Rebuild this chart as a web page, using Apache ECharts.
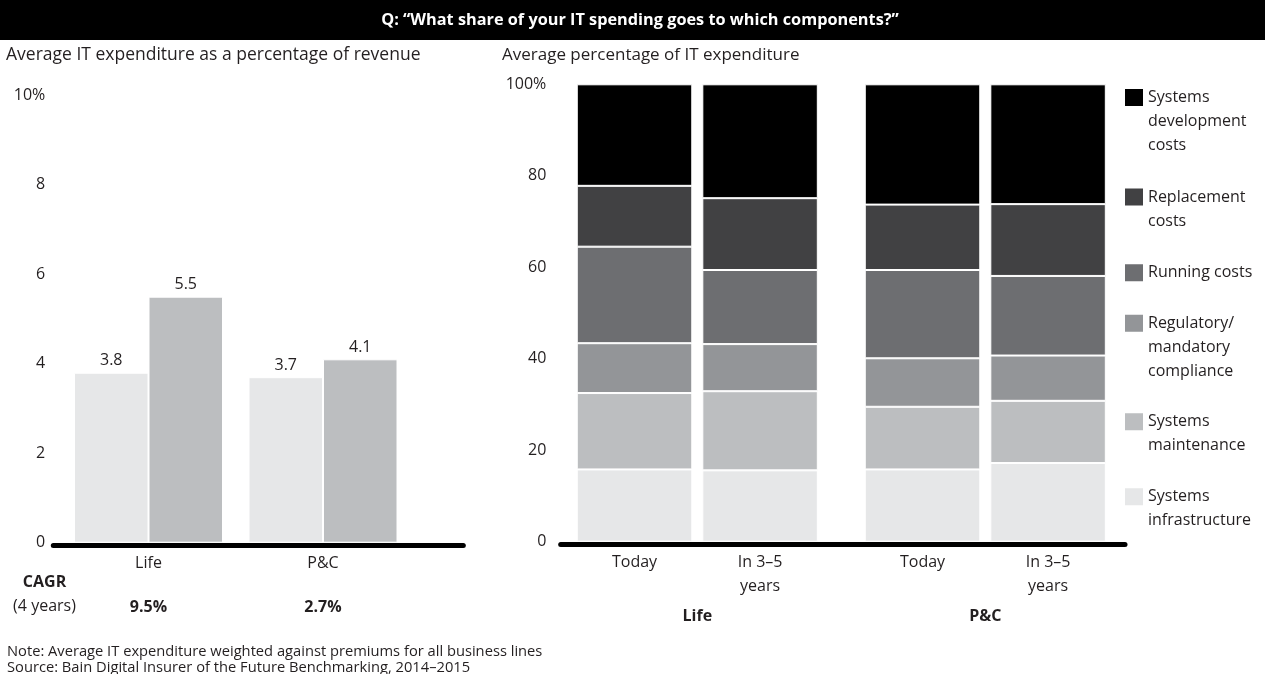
<!DOCTYPE html>
<html>
<head>
<meta charset="utf-8">
<script src="https://cdn.jsdelivr.net/npm/echarts@6/dist/echarts.min.js"></script>
<style>html,body{margin:0;padding:0;background:#fff}#c{width:1265px;height:674px}</style>
</head>
<body>
<div id="c"></div>
<script>
// ---- data ----
const titleText = 'Q: \u201cWhat share of your IT spending goes to which components?\u201d';
const leftSubtitle = 'Average IT expenditure as a percentage of revenue';
const rightSubtitle = 'Average percentage of IT expenditure';
const noteText = 'Note: Average IT expenditure weighted against premiums for all business lines';
const sourceText = 'Source: Bain Digital Insurer of the Future Benchmarking, 2014\u20132015';

const lobCategories = ['Life', 'P&C'];
const spendToday = [3.8, 3.7];
const spendFuture = [5.5, 4.1];
const cagrValues = ['9.5%', '2.7%'];
const leftTicks = [0, 2, 4, 6, 8, 10];
const rightTicks = [0, 20, 40, 60, 80, 100];

// stack order bottom -> top
const components = ['Systems infrastructure', 'Systems maintenance', 'Regulatory/mandatory compliance', 'Running costs', 'Replacement costs', 'Systems development costs'];
const legendLabels = ['Systems\ninfrastructure', 'Systems\nmaintenance', 'Regulatory/\nmandatory\ncompliance', 'Running costs', 'Replacement\ncosts', 'Systems\ndevelopment\ncosts'];
const periodLabels = ['Today', 'In 3\u20135\nyears'];
const lifeToday  = [15.8, 16.7, 10.9, 21.1, 13.3, 22.2];
const pcToday    = [15.8, 13.7, 10.6, 19.3, 14.3, 26.3];
const lifeFuture = [15.6, 17.3, 10.3, 16.2, 15.7, 24.9];
const pcFuture   = [17.2, 13.6,  9.9, 17.4, 15.7, 26.2];

// ---- styles ----
const FONT = 'Open Sans';
const TXT = '#231f20';
const compColors = ['#e6e7e8', '#bcbec0', '#939598', '#6d6e71', '#414143', '#000000'];
const leftColors = ['#e6e7e8', '#bcbec0'];
const LH = 24; // legend line height

const chart = echarts.init(document.getElementById('c'), null, {renderer: 'canvas'});

const series = [];
[spendToday, spendFuture].forEach((vals, i) => {
  series.push({
    name: i === 0 ? 'Today' : 'Future', type: 'bar', xAxisIndex: 0, yAxisIndex: 0,
    data: vals, barWidth: 74.5, barGap: '0%',
    itemStyle: {color: leftColors[i], borderColor: '#fff', borderWidth: 1},
    label: {show: true, position: 'top', distance: 4, fontSize: 16, fontFamily: FONT, color: TXT, formatter: p => p.value.toFixed(1)}
  });
});

const stacks = [
  {id: 'today', life: lifeToday, pc: pcToday},
  {id: 'future', life: lifeFuture, pc: pcFuture}
];
stacks.forEach((st, si) => {
  components.forEach((comp, k) => {
    series.push({
      name: comp, type: 'bar', stack: st.id, xAxisIndex: 3, yAxisIndex: 2,
      data: [st.life[k], st.pc[k]], barWidth: 115.5, barGap: '8.7%',
      itemStyle: {color: compColors[k], borderColor: '#fff', borderWidth: 1},
      label: k === 0 ? {show: true, position: 'bottom', distance: 9, fontSize: 16, lineHeight: 24, fontFamily: FONT, color: TXT, formatter: () => periodLabels[si]} : {show: false}
    });
  });
});

// legend: one component per item; icon box as tall as the text block, square drawn at its top
const legendFirstLine = [496.7, 421.7, 323.3, 272.7, 197, 97.5];
const legends = components.map((comp, k) => {
  const n = legendLabels[k].split('\n').length;
  const H = n * LH;
  return {
    orient: 'vertical', left: 1125, top: legendFirstLine[k] - LH / 2,
    padding: 0, itemWidth: 18, itemHeight: H, itemGap: 0,
    icon: 'path://M0,3.5L18,3.5L18,20.5L0,20.5Z M0,0L18,0L18,0Z M0,' + H + 'L18,' + H + 'L18,' + H + 'Z',
    selectedMode: false, data: [comp],
    formatter: () => legendLabels[k],
    itemStyle: {borderWidth: 0},
    textStyle: {fontSize: 16, lineHeight: LH, fontFamily: FONT, color: TXT}
  };
});

const option = {
  animation: false,
  textStyle: {fontFamily: FONT, color: TXT},
  grid: [
    {left: 61.25, width: 349, top: 95.4, height: 447.3},     // left bars
    {left: 53.3, width: 410, top: 95.4, height: 450.3},      // left axis line
    {left: 553.3, width: 576, top: 84.3, height: 457.4},     // right bars
    {left: 560.7, width: 564.3, top: 84.3, height: 460.4}    // right axis line
  ],
  xAxis: [
    {gridIndex: 0, type: 'category', data: lobCategories,
      axisLine: {show: false}, axisTick: {show: false},
      axisLabel: {margin: 9.5, fontSize: 16, lineHeight: 22, fontFamily: FONT, color: TXT,
        formatter: (v, i) => v + '\n\n{c|' + cagrValues[i] + '}',
        rich: {c: {fontWeight: 'bold', fontSize: 16, lineHeight: 22, fontFamily: FONT, color: TXT}}}},
    {gridIndex: 1, type: 'category', data: [''], axisLine: {show: true, lineStyle: {color: '#000', width: 5}}, axisTick: {show: false}, axisLabel: {show: false}},
    {gridIndex: 3, type: 'category', data: [''], axisLine: {show: true, lineStyle: {color: '#000', width: 5}}, axisTick: {show: false}, axisLabel: {show: false}},
    {gridIndex: 2, type: 'category', data: lobCategories,
      axisLine: {show: false}, axisTick: {show: false},
      axisLabel: {margin: 67, fontSize: 16, fontWeight: 'bold', fontFamily: FONT, color: TXT}}
  ],
  yAxis: [
    {gridIndex: 0, type: 'value', min: leftTicks[0], max: leftTicks[leftTicks.length - 1], interval: 2,
      splitLine: {show: false}, axisLine: {show: false}, axisTick: {show: false},
      axisLabel: {margin: 16, fontSize: 16, fontFamily: FONT, color: TXT, formatter: v => v === 10 ? '10%' : String(v)}},
    {gridIndex: 1, type: 'value', min: 0, max: 10, show: false},
    {gridIndex: 2, type: 'value', min: rightTicks[0], max: rightTicks[rightTicks.length - 1], interval: 20,
      splitLine: {show: false}, axisLine: {show: false}, axisTick: {show: false},
      axisLabel: {margin: 7, fontSize: 16, fontFamily: FONT, color: TXT, formatter: v => v === 100 ? '100%' : String(v)}},
    {gridIndex: 3, type: 'value', min: 0, max: 100, show: false}
  ],
  legend: legends,
  series: series,
  graphic: [
    {type: 'rect', shape: {x: 0, y: 0, width: 1265, height: 40}, style: {fill: '#000'}, z: 0},
    {type: 'text', x: 640, y: 20, style: {text: titleText, fill: '#fff', fontSize: 16.3, fontWeight: 'bold', fontFamily: FONT, align: 'center', verticalAlign: 'middle'}},
    {type: 'text', x: 6, y: 55, style: {text: leftSubtitle, fill: TXT, fontSize: 17.5, fontFamily: FONT, align: 'left', verticalAlign: 'middle'}},
    {type: 'text', x: 502, y: 55, style: {text: rightSubtitle, fill: TXT, fontSize: 17, fontFamily: FONT, align: 'left', verticalAlign: 'middle'}},
    {type: 'text', x: 44.5, y: 582, style: {text: 'CAGR', fill: TXT, fontSize: 16, fontWeight: 'bold', fontFamily: FONT, align: 'center', verticalAlign: 'middle'}},
    {type: 'text', x: 44.5, y: 606, style: {text: '(4 years)', fill: TXT, fontSize: 16, fontFamily: FONT, align: 'center', verticalAlign: 'middle'}},
    {type: 'text', x: 7, y: 652, style: {text: noteText, fill: TXT, fontSize: 14.7, fontFamily: FONT, align: 'left', verticalAlign: 'middle'}},
    {type: 'text', x: 7, y: 667.5, style: {text: sourceText, fill: TXT, fontSize: 14.7, fontFamily: FONT, align: 'left', verticalAlign: 'middle'}}
  ]
};
chart.setOption(option);
</script>
</body>
</html>
